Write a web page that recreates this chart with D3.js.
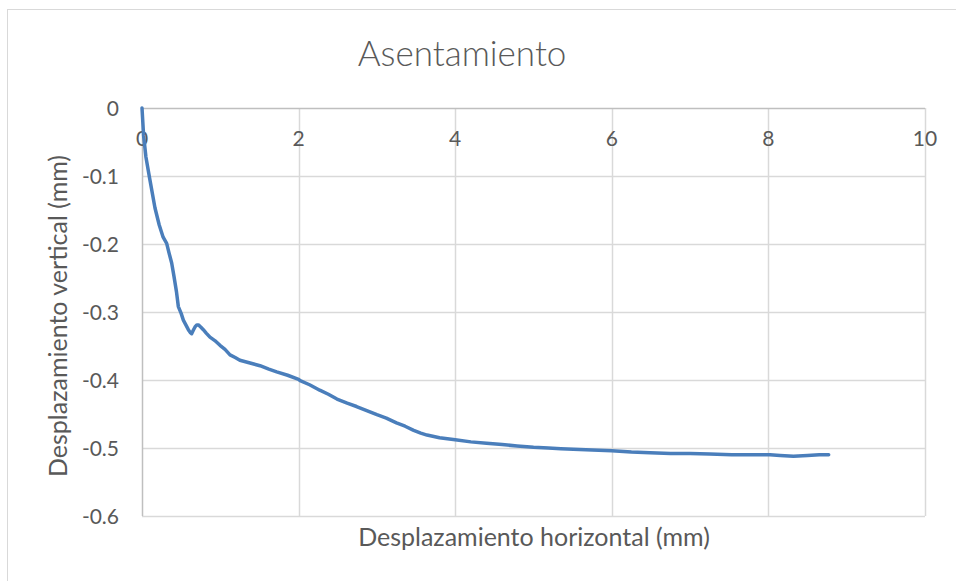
<!DOCTYPE html>
<html>
<head>
<meta charset="utf-8">
<script src="https://cdn.jsdelivr.net/npm/d3@7"></script>
<style>
  html, body { margin: 0; padding: 0; background: #fff; }
  svg { display: block; }
  text { font-family: Lato, "Open Sans", sans-serif; fill: #595959; }
</style>
</head>
<body>
<svg id="chart" width="956" height="581"></svg>
<script>
// Settlement curve: horizontal vs vertical displacement (mm)
const horizontal = [0, 0.02, 0.05, 0.1, 0.166, 0.22, 0.27, 0.315, 0.345, 0.379, 0.409, 0.44, 0.464, 0.5, 0.528, 0.56,
  0.592, 0.615, 0.634, 0.655, 0.677, 0.7, 0.72, 0.75, 0.783, 0.82, 0.868, 0.93, 0.996, 1.06, 1.124, 1.19,
  1.25, 1.38, 1.507, 1.62, 1.72, 1.86, 2.0, 2.02, 2.14, 2.27, 2.38, 2.49, 2.62, 2.74, 2.87, 3.0, 3.12,
  3.25, 3.36, 3.47, 3.56, 3.64, 3.8, 4.0, 4.2, 4.4, 4.6, 4.79, 5.0, 5.19, 5.35, 5.51, 5.75, 6.0, 6.25,
  6.49, 6.75, 7.0, 7.25, 7.53, 7.8, 8.02, 8.15, 8.32, 8.5, 8.65, 8.77];
const vertical = [0, -0.04, -0.072, -0.105, -0.147, -0.172, -0.19, -0.199, -0.213, -0.228, -0.248, -0.27, -0.292, -0.302, -0.312, -0.319,
  -0.326, -0.33, -0.332, -0.327, -0.322, -0.319, -0.319, -0.322, -0.326, -0.331, -0.337, -0.342, -0.349, -0.355, -0.363, -0.367,
  -0.371, -0.375, -0.379, -0.384, -0.388, -0.393, -0.399, -0.401, -0.407, -0.415, -0.421, -0.428, -0.434, -0.439, -0.445, -0.451, -0.456,
  -0.463, -0.468, -0.474, -0.478, -0.481, -0.485, -0.488, -0.491, -0.493, -0.495, -0.497, -0.499, -0.5, -0.501, -0.502, -0.503, -0.504, -0.506,
  -0.507, -0.508, -0.508, -0.509, -0.51, -0.51, -0.51, -0.511, -0.512, -0.511, -0.51, -0.51];

const xTicks = [0, 2, 4, 6, 8, 10];
const yTicks = [0, -0.1, -0.2, -0.3, -0.4, -0.5, -0.6];

const titleText = "Asentamiento";
const xTitle = "Desplazamiento horizontal (mm)";
const yTitle = "Desplazamiento vertical (mm)";

const svg = d3.select("#chart");

// chart area frame
svg.append("rect")
  .attr("x", 7.5).attr("y", 9.5)
  .attr("width", 1000).attr("height", 1000)
  .attr("fill", "#fff").attr("stroke", "#d9d9d9").attr("stroke-width", 1);

const x = d3.scaleLinear().domain([0, 10]).range([142, 925]);
const y = d3.scaleLinear().domain([-0.6, 0]).range([516, 108]);

// gridlines
svg.append("g")
  .selectAll("line").data(xTicks.filter(d => d !== 0)).join("line")
  .attr("x1", d => Math.round(x(d)) + 0.5).attr("x2", d => Math.round(x(d)) + 0.5)
  .attr("y1", y(0)).attr("y2", y(-0.6))
  .attr("stroke", "#d9d9d9").attr("stroke-width", 1.5);
svg.append("g")
  .selectAll("line").data(yTicks.filter(d => d !== 0)).join("line")
  .attr("x1", x(0)).attr("x2", x(10))
  .attr("y1", d => Math.round(y(d)) + 0.5).attr("y2", d => Math.round(y(d)) + 0.5)
  .attr("stroke", "#d9d9d9").attr("stroke-width", 1.5);

// axis lines (crossing at origin: top and left)
svg.append("line")
  .attr("x1", x(0)).attr("x2", x(10))
  .attr("y1", Math.round(y(0)) + 0.5).attr("y2", Math.round(y(0)) + 0.5)
  .attr("stroke", "#bfbfbf").attr("stroke-width", 1.5);
svg.append("line")
  .attr("x1", Math.round(x(0)) + 0.5).attr("x2", Math.round(x(0)) + 0.5)
  .attr("y1", y(0)).attr("y2", y(-0.6))
  .attr("stroke", "#bfbfbf").attr("stroke-width", 1.5);

// tick labels
svg.append("g")
  .selectAll("text").data(xTicks).join("text")
  .attr("x", d => x(d)).attr("y", y(0) + 38)
  .attr("text-anchor", "middle")
  .attr("font-size", 21)
  .text(d => d3.format("d")(d));
svg.append("g")
  .selectAll("text").data(yTicks).join("text")
  .attr("x", 119).attr("y", d => y(d) + 7.5)
  .attr("text-anchor", "end")
  .attr("font-size", 21)
  .text(d => d === 0 ? "0" : d3.format(".1f")(d).replace("−", "-"));

// data line
const pts = horizontal.map((h, i) => [h, vertical[i]]);
svg.append("path")
  .datum(pts)
  .attr("fill", "none")
  .attr("stroke", "#4a7ebb")
  .attr("stroke-width", 3.5)
  .attr("stroke-linejoin", "round")
  .attr("stroke-linecap", "round")
  .attr("d", d3.line().x(d => x(d[0])).y(d => y(d[1])));

// titles
svg.append("text")
  .attr("x", 462).attr("y", 66)
  .attr("text-anchor", "middle")
  .attr("font-size", 35)
  .attr("font-weight", 300)
  .text(titleText);
svg.append("text")
  .attr("x", 534).attr("y", 546)
  .attr("text-anchor", "middle")
  .attr("font-size", 25)
  .text(xTitle);
svg.append("text")
  .attr("transform", "translate(67,316) rotate(-90)")
  .attr("text-anchor", "middle")
  .attr("font-size", 25)
  .text(yTitle);
</script>
</body>
</html>
